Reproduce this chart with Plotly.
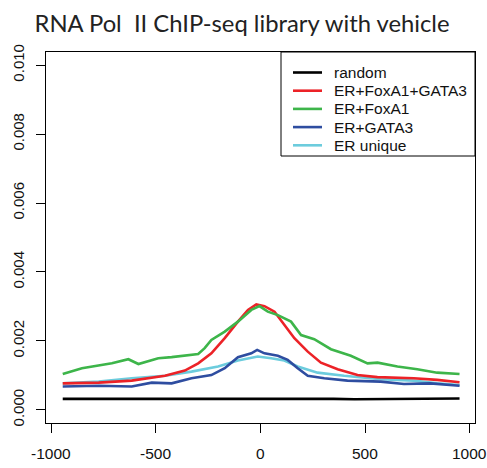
import plotly.graph_objects as go

# ---- data ----
x_random = [-946, -800, -600, -400, -250, -150, -50, 0, 50, 150, 250, 350, 450, 600, 750, 850, 900, 952]
y_random = [0.00032, 0.00032, 0.00032, 0.00032, 0.00032, 0.00033, 0.00032, 0.00033, 0.00034, 0.00033, 0.00032,
            0.00032, 0.00031, 0.00032, 0.00032, 0.00033, 0.00032, 0.00033]

x_red = [-946, -774, -616, -457, -362, -298, -235, -171, -108, -60, -20, 19, 67, 114, 162, 226, 289, 369, 464,
         559, 733, 845, 952]
y_red = [0.00077, 0.00079, 0.00085, 0.00099, 0.00114, 0.00135, 0.00164, 0.00208, 0.00256, 0.0029, 0.00306,
         0.00301, 0.00285, 0.00246, 0.00208, 0.00169, 0.00137, 0.00118, 0.00101, 0.00095, 0.00092, 0.00087, 0.0008]

x_green = [-946, -854, -711, -632, -584, -489, -425, -298, -267, -235, -171, -108, -44, -5, 35, 83, 146, 194,
           257, 337, 432, 512, 560, 655, 750, 845, 952]
y_green = [0.00104, 0.00121, 0.00135, 0.00147, 0.00133, 0.0015, 0.00153, 0.00162, 0.00179, 0.00203, 0.00227,
           0.00256, 0.0029, 0.00301, 0.00285, 0.00275, 0.00256, 0.00217, 0.00205, 0.00176, 0.00157, 0.00135,
           0.00137, 0.00126, 0.00118, 0.00108, 0.00104]

x_blue = [-946, -774, -616, -520, -425, -330, -235, -171, -108, -44, -16, 19, 83, 130, 178, 226, 305, 416, 575,
          686, 813, 952]
y_blue = [0.00068, 0.0007, 0.00068, 0.00079, 0.00077, 0.00092, 0.00101, 0.00121, 0.00153, 0.00164, 0.00174,
          0.00164, 0.00157, 0.00145, 0.00121, 0.00099, 0.00092, 0.00085, 0.00082, 0.00075, 0.00077, 0.0007]

x_cyan = [-946, -774, -616, -457, -330, -203, -108, -13, 51, 114, 178, 273, 400, 575, 733, 845, 952]
y_cyan = [0.00077, 0.00082, 0.00092, 0.00099, 0.00111, 0.00126, 0.00143, 0.00155, 0.0015, 0.00143, 0.00126,
          0.00108, 0.00099, 0.00089, 0.00085, 0.00077, 0.00072]

series_names = ["random", "ER+FoxA1+GATA3", "ER+FoxA1", "ER+GATA3", "ER unique"]
series_colors = ["#000000", "#EC2227", "#3DB54A", "#2E4DA0", "#6CCCDD"]
series_x = [x_random, x_red, x_green, x_blue, x_cyan]
series_y = [y_random, y_red, y_green, y_blue, y_cyan]

x_ticks = [-1000, -500, 0, 500, 1000]
y_ticks = [0.000, 0.002, 0.004, 0.006, 0.008, 0.010]

title_text = "RNA Pol  II ChIP-seq library with vehicle"

# ---- figure ----
W, H = 487, 468
ML, MR, MT, MB = 46, 12, 52, 45

fig = go.Figure()
draw_order = [0, 4, 3, 1, 2]
for i in draw_order:
    fig.add_trace(go.Scatter(x=series_x[i], y=series_y[i], mode="lines", name=series_names[i],
                             line=dict(color=series_colors[i], width=2.6), showlegend=False))

# manual legend (R-style box)
pw = W - ML - MR
ph = H - MT - MB
def px2x(px):
    return (px - ML) / pw
def py2y(py):
    return 1 - (py - MT) / ph

fig.add_shape(type="rect", xref="paper", yref="paper", x0=px2x(281), x1=1, y0=py2y(156), y1=1,
              line=dict(color="black", width=1), fillcolor="white", layer="above")
for k, (nm, col) in enumerate(zip(series_names, series_colors)):
    yy = py2y(72.5 + 18.2 * k)
    fig.add_shape(type="line", xref="paper", yref="paper", x0=px2x(293), x1=px2x(322), y0=yy, y1=yy,
                  line=dict(color=col, width=2.6), layer="above")
    fig.add_annotation(x=px2x(332), y=yy, xref="paper", yref="paper", text=nm, showarrow=False,
                       xanchor="left", yanchor="middle",
                       font=dict(family="Liberation Sans, Arial", size=15.5, color="#111"))

# x tick labels as annotations at the tick values (so the edge label is not hidden)
for v in x_ticks:
    fig.add_annotation(x=v, xref="x", y=0, yref="paper", text=str(v), showarrow=False,
                       xanchor="center", yanchor="top", yshift=-20,
                       font=dict(family="Liberation Sans, Arial", size=15.5, color="#111"))

fig.update_layout(
    width=W, height=H,
    margin=dict(l=ML, r=MR, t=MT, b=MB),
    paper_bgcolor="white", plot_bgcolor="white",
    title=dict(text=title_text, x=242 / W, xref="container", xanchor="center",
               y=1 - 24 / H, yref="container", yanchor="middle",
               font=dict(family="Lato", size=23.8, color="#222")),
    xaxis=dict(range=[-1026, 1026], tickvals=x_ticks, showticklabels=False,
               showgrid=False, zeroline=False, showline=True, mirror=True, linecolor="black", linewidth=1,
               ticks="outside", ticklen=9, tickcolor="black", automargin=False),
    yaxis=dict(range=[-0.00038, 0.01038], tickvals=y_ticks, ticktext=["%.3f" % v for v in y_ticks],
               showgrid=False, zeroline=False, showline=True, mirror=True, linecolor="black", linewidth=1,
               ticks="outside", ticklen=9, tickcolor="black", tickangle=-90, ticklabelstandoff=6,
               automargin=False, ticklabeloverflow="allow",
               tickfont=dict(family="Liberation Sans, Arial", size=15, color="#111")),
)

fig.write_html("out.html")
